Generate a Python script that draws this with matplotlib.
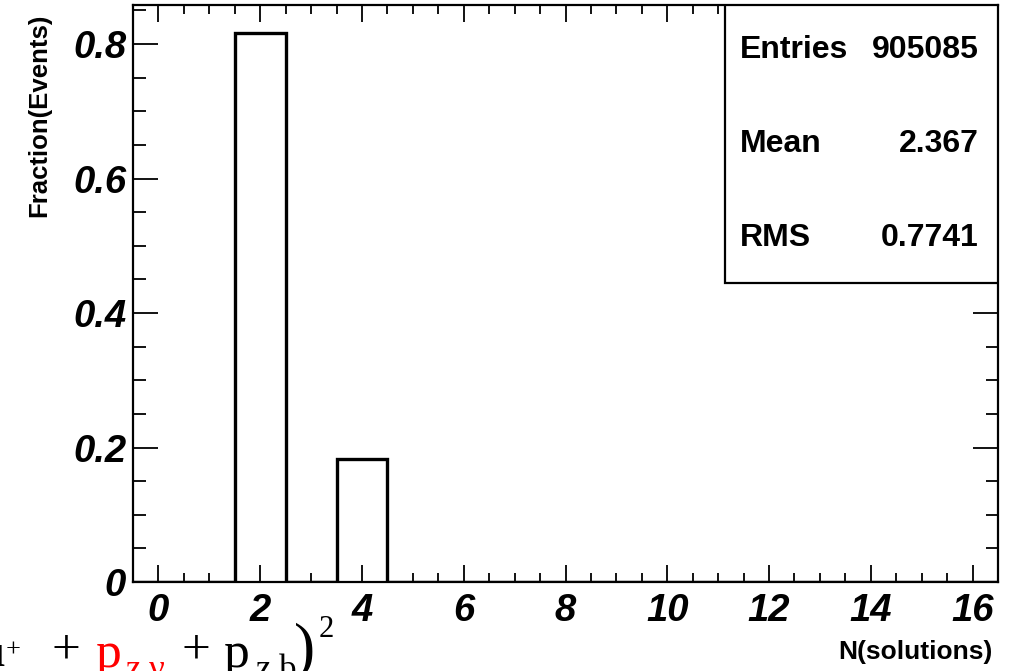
import matplotlib
matplotlib.use("Agg")
import matplotlib.pyplot as plt
import numpy as np

# Data: fraction of events per number of solutions
n_solutions = list(range(0, 17))
fraction = [0, 0, 0.8165, 0, 0.1835, 0, 0, 0, 0, 0, 0, 0, 0, 0, 0, 0, 0]
x_ticks = [0, 2, 4, 6, 8, 10, 12, 14, 16]
y_ticks = [0, 0.2, 0.4, 0.6, 0.8]
y_tick_labels = ["0", "0.2", "0.4", "0.6", "0.8"]
stats_names = ["Entries", "Mean", "RMS"]
stats_values = ["905085", "2.367", "0.7741"]

plt.rcParams['font.family'] = ['Liberation Sans', 'DejaVu Sans']

W, H = 1016, 671
fig = plt.figure(figsize=(W/100, H/100), dpi=100)
ax = fig.add_axes([133/W, 1-582/H, (998-133)/W, (582-5)/H])

edges = np.array(n_solutions + [n_solutions[-1] + 1]) - 0.5
ax.stairs(fraction, edges, color='black', linewidth=2.4, baseline=0)

ax.set_xlim(-0.5, 16.5)
ax.set_ylim(0, 0.858)

ax.set_xticks(x_ticks)
ax.set_xticks(np.arange(0, 16.01, 0.5), minor=True)
ax.set_yticks(y_ticks)
ax.set_yticklabels(y_tick_labels)
ax.set_yticks(np.arange(0, 0.851, 0.05), minor=True)

for lab in ax.get_xticklabels() + ax.get_yticklabels():
    lab.set_fontsize(27.5)
    lab.set_fontweight('bold')
    lab.set_fontstyle('italic')

ax.tick_params(axis='x', which='major', direction='in', length=12, width=1.3,
               top=True, bottom=True, pad=8)
ax.tick_params(axis='x', which='minor', direction='in', length=6.5, width=1.3,
               top=True, bottom=True)
ax.tick_params(axis='y', which='major', direction='in', length=18, width=1.3,
               left=True, right=True, pad=5)
ax.tick_params(axis='y', which='minor', direction='in', length=9, width=1.3,
               left=True, right=True)
for s in ax.spines.values():
    s.set_linewidth(1.6)

fig.text(39/W, 1-14/H, "Fraction(Events)", rotation=90, ha='center', va='top',
         fontsize=18.5, fontweight='bold')
fig.text(993/W, 1-652/H, "N(solutions)", ha='right', va='center',
         fontsize=19, fontweight='bold')

# Stats box
box_l = (725-133)/865
box_b = (582-283)/577
ax.add_patch(plt.Rectangle((box_l, box_b), 1-box_l, 1-box_b, transform=ax.transAxes,
                           fill=True, facecolor='white', edgecolor='black',
                           linewidth=1.6, zorder=5))
ys = [50, 144, 238]
for name, val, yp in zip(stats_names, stats_values, ys):
    fig.text(740/W, 1-yp/H, name, ha='left', va='center', fontsize=23,
             fontweight='bold', zorder=6)
    fig.text(979/W, 1-yp/H, val, ha='right', va='center', fontsize=23,
             fontweight='bold', zorder=6)

# Partial formula overlay at bottom-left (cut off by the picture edge)
serif = ['Liberation Serif', 'DejaVu Serif']
def ftxt(x, y, s, size, color='black'):
    fig.text(x/W, 1-y/H, s, fontsize=size, color=color, ha='left', va='baseline',
             family=serif)

ftxt(-20, 666, "\u03bc", 34)
ftxt(6, 657, "+", 19)
ftxt(51, 664, "+", 37)
ftxt(95, 667, "p", 37, 'red')
ftxt(125, 679, "z,\u03bd", 25, 'red')
ftxt(182, 664, "+", 37)
ftxt(223, 667, "p", 37)
ftxt(255, 679, "z,b", 25)
ftxt(294, 666, ")", 46)
ftxt(319, 637, "2", 22)

fig.savefig("out.png", dpi=100)
